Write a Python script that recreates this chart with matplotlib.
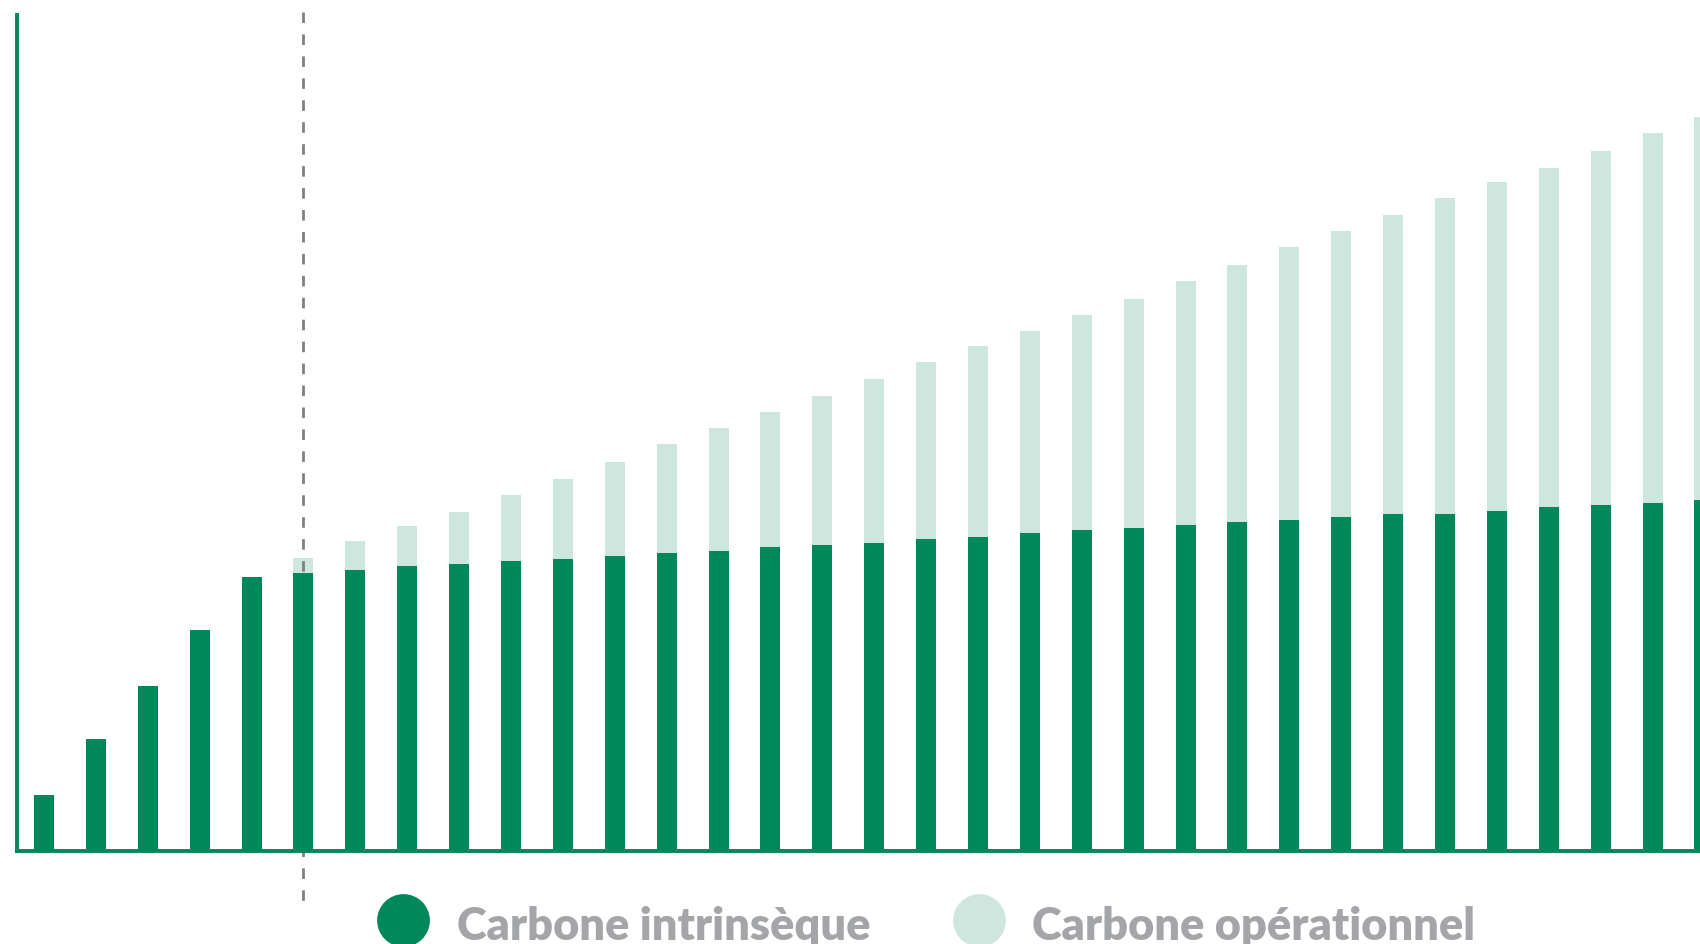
import matplotlib
matplotlib.use("Agg")
from matplotlib import pyplot as plt
from matplotlib.lines import Line2D

# heights (arbitrary units, baseline = 0)
intrinseque = [52, 103, 152, 204, 253, 256, 259, 263, 265, 267, 269, 272, 275, 277, 280, 282, 284,
               288, 290, 293, 296, 298, 301, 303, 305, 308, 311, 311, 314, 317, 319, 321, 324]
total = [52, 103, 152, 204, 253, 270, 286, 300, 313, 328, 343, 359, 375, 390, 405, 420, 435,
         451, 466, 480, 494, 509, 526, 540, 557, 572, 587, 602, 617, 630, 646, 662, 677]
operationnel = [t - i for t, i in zip(total, intrinseque)]
years = list(range(len(intrinseque)))
marker_year = 5
legend_labels = ["Carbone intrinsèque", "Carbone opérationnel"]

DARK = '#00875A'
LIGHT = '#CDE7DE'
GREY_TXT = '#A3A5A8'
GREY_LINE = '#7D8084'

W, H = 1700, 945
fig = plt.figure(figsize=(W / 100, H / 100), dpi=100)
fig.patch.set_facecolor('white')

# axes: left edge at x=17px, baseline at y=852px, top at y=16px, runs off the right edge
ax = fig.add_axes([17 / W, (H - 852) / H, 1 - 17 / W, (852 - 16) / H])
ax.bar(years, intrinseque, width=0.385, color=DARK, linewidth=0, zorder=3)
ax.bar(years, operationnel, bottom=intrinseque, width=0.385, color=LIGHT, linewidth=0, zorder=1)
ax.set_xlim(-0.52, -0.52 + (W - 17) / 51.89)
ax.set_ylim(0, 771)

for side in ['top', 'right']:
    ax.spines[side].set_visible(False)
for side in ['left', 'bottom']:
    ax.spines[side].set_color(DARK)
    ax.spines[side].set_linewidth(2.8)
    ax.spines[side].set_zorder(4)
ax.set_xticks([])
ax.set_yticks([])

# dashed marker line, going below the axis (over light bars, under dark ones)
trans = matplotlib.transforms.blended_transform_factory(ax.transData, ax.transAxes)
ax.plot([marker_year, marker_year], [1.003, -0.066], transform=trans, clip_on=False,
        color=GREY_LINE, linewidth=2.0, dashes=(3.8, 4.1), zorder=2)

# legend, drawn by hand
colors = [DARK, LIGHT]
circle_x = [403, 979]
text_x = [457, 1032]
for lab, c, cx, tx in zip(legend_labels, colors, circle_x, text_x):
    fig.add_artist(Line2D([cx / W], [(H - 920.5) / H], marker='o', markersize=38,
                          markerfacecolor=c, markeredgewidth=0, linestyle='none',
                          transform=fig.transFigure))
    fig.text(tx / W, (H - 940) / H, lab, color=GREY_TXT, fontsize=32.5,
             family=['Lato', 'DejaVu Sans'], fontweight='heavy', va='baseline', ha='left')

fig.savefig('out.png', dpi=100)
